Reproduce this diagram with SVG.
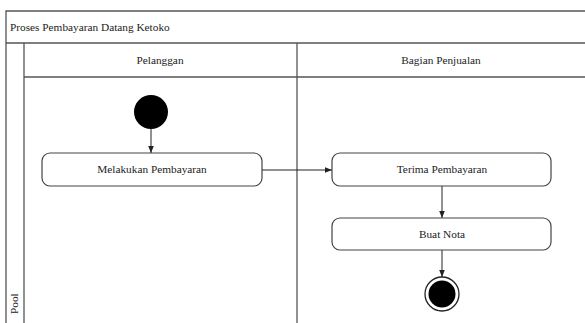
<svg xmlns="http://www.w3.org/2000/svg" width="585" height="323" viewBox="0 0 585 323">
  <style>
    .frame { fill: none; stroke: #555; stroke-width: 1.3; }
    .lbl { font-family: "Liberation Serif", "DejaVu Serif", serif; font-size: 11.3px; fill: #222; }
    .act { fill: #fff; stroke: #444; stroke-width: 1.2; }
    .edge { fill: none; stroke: #222; stroke-width: 1; marker-end: url(#arrow); }
  </style>
  <defs>
    <marker id="arrow" viewBox="0 0 10 10" refX="10" refY="5" markerWidth="7" markerHeight="7" orient="auto" markerUnits="userSpaceOnUse">
      <path d="M0,1 L10,5 L0,9 Z" fill="#222"/>
    </marker>
  </defs>
  <rect width="585" height="323" fill="#fff"/>

  <!-- pool frame and swimlanes -->
  <g id="pool">
    <path class="frame" d="M585,11 H6 V323"/>
    <line class="frame" x1="6" y1="43" x2="585" y2="43"/>
    <line class="frame" x1="24" y1="43" x2="24" y2="323"/>
    <line class="frame" x1="24" y1="77" x2="585" y2="77"/>
    <line class="frame" x1="297" y1="43" x2="297" y2="323"/>
    <text class="lbl" x="10" y="31">Proses Pembayaran Datang Ketoko</text>
    <text class="lbl" transform="translate(18,314) rotate(-90)">Pool</text>
  </g>
  <g id="lane-pelanggan">
    <text class="lbl" x="160" y="64" text-anchor="middle">Pelanggan</text>
  </g>
  <g id="lane-penjualan">
    <text class="lbl" x="441" y="64" text-anchor="middle">Bagian Penjualan</text>
  </g>

  <!-- connectors -->
  <g id="connectors">
    <line class="edge" x1="151" y1="129" x2="151" y2="153"/>
    <line class="edge" x1="262" y1="170" x2="332" y2="170"/>
    <line class="edge" x1="442" y1="186" x2="442" y2="218"/>
    <line class="edge" x1="442" y1="250" x2="442" y2="277"/>
  </g>

  <g id="start">
    <circle cx="151" cy="112" r="17" fill="#000"/>
  </g>
  <g id="melakukan-pembayaran">
    <rect class="act" x="42" y="153" width="220" height="33" rx="8"/>
    <text class="lbl" x="152" y="173" text-anchor="middle">Melakukan Pembayaran</text>
  </g>
  <g id="terima-pembayaran">
    <rect class="act" x="332" y="153" width="219" height="33" rx="8"/>
    <text class="lbl" x="442" y="173" text-anchor="middle">Terima Pembayaran</text>
  </g>
  <g id="buat-nota">
    <rect class="act" x="332" y="218" width="219" height="32" rx="8"/>
    <text class="lbl" x="442" y="238" text-anchor="middle">Buat Nota</text>
  </g>
  <g id="end">
    <circle cx="442" cy="294" r="17" fill="#fff" stroke="#222" stroke-width="1.3"/>
    <circle cx="442" cy="294" r="13.5" fill="#000"/>
  </g>
</svg>
